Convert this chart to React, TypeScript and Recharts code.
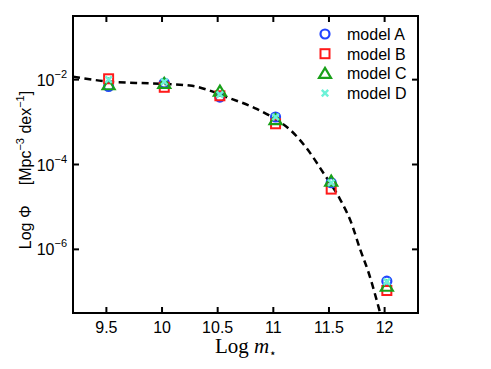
import React from 'react';
import {
  ComposedChart,
  Line,
  Scatter,
  XAxis,
  YAxis,
  Label,
} from 'recharts';

// log10 stellar mass bins
const massBins = [9.52, 10.02, 10.52, 11.02, 11.52, 12.02];

// log10 Phi per model
const modelA = [-2.16, -2.08, -2.41, -2.88, -4.43, -6.75];
const modelB = [-1.98, -2.18, -2.38, -3.04, -4.58, -6.97];
const modelC = [-2.12, -2.09, -2.27, -2.94, -4.39, -6.87];
const modelD = [-2.0, -2.05, -2.35, -2.88, -4.43, -6.76];

// dashed fit
const fitMass = [9.2, 9.5, 9.9, 10.25, 10.6, 10.85, 11.0, 11.15, 11.3, 11.45, 11.6, 11.7, 11.78, 11.85, 11.96];
const fitPhi = [-1.93, -2.04, -2.09, -2.14, -2.43, -2.69, -2.9, -3.18, -3.62, -4.2, -4.82, -5.37, -6.0, -6.5, -7.5];

const xTicks = [9.5, 10, 10.5, 11, 11.5, 12];
const yTicks = [-6, -4, -2];
const modelNames = ['model A', 'model B', 'model C', 'model D'];

const X_DOMAIN = [9.2, 12.3];
const Y_DOMAIN = [-7.5, -0.5];

const W = 491;
const H = 369;
const MARGIN = { top: 16, right: 73, bottom: 26, left: 13 };
const PLOT_LEFT = 73;
const PLOT_TOP = MARGIN.top;
const PLOT_RIGHT = W - MARGIN.right;
const PLOT_BOTTOM = H - MARGIN.bottom - 30;

const BLUE = '#2244ff';
const RED = '#ff1a1a';
const GREEN = '#19a019';
const CYAN = '#6cf2d8';
const SANS = '"Liberation Sans", Arial, sans-serif';

const toPoints = (ys: number[]) => massBins.map((x, i) => ({ x, y: ys[i] }));
const fitPoints = fitMass.map((x, i) => ({ x, y: fitPhi[i] }));

const Circle = ({ cx, cy }: any) => (
  <circle cx={cx} cy={cy} r={4.5} fill="none" stroke={BLUE} strokeWidth={2.2} />
);
const Square = ({ cx, cy }: any) => (
  <rect x={cx - 4.5} y={cy - 4.5} width={9} height={9} fill="none" stroke={RED} strokeWidth={2} />
);
const Triangle = ({ cx, cy }: any) => (
  <polygon
    points={`${cx},${cy - 5.5} ${cx + 6},${cy + 4.5} ${cx - 6},${cy + 4.5}`}
    fill="none"
    stroke={GREEN}
    strokeWidth={2.2}
  />
);
const Cross = ({ cx, cy }: any) => (
  <g stroke={CYAN} strokeWidth={2.4}>
    <line x1={cx - 3.2} y1={cy - 3.2} x2={cx + 3.2} y2={cy + 3.2} />
    <line x1={cx - 3.2} y1={cy + 3.2} x2={cx + 3.2} y2={cy - 3.2} />
  </g>
);
const markers = [Circle, Square, Triangle, Cross];

// bottom tick + its mirror on the top edge (matlab-style inward ticks)
const BottomTick = ({ x, y, payload }: any) => (
  <g>
    <line x1={x} y1={y} x2={x} y2={y - 6} stroke="#000" strokeWidth={2} />
    <line x1={x} y1={PLOT_TOP} x2={x} y2={PLOT_TOP + 6} stroke="#000" strokeWidth={2} />
    <text x={x} y={y + 20} textAnchor="middle" fontFamily={SANS} fontSize={16} fill="#000">
      {payload.value}
    </text>
  </g>
);
const LeftTick = ({ x, y, payload }: any) => (
  <g>
    <line x1={x} y1={y} x2={x + 6} y2={y} stroke="#000" strokeWidth={2} />
    <line x1={PLOT_RIGHT} y1={y} x2={PLOT_RIGHT - 6} y2={y} stroke="#000" strokeWidth={2} />
    <text x={x - 6} y={y + 6} textAnchor="end" fontFamily={SANS} fontSize={16} fill="#000">
      <tspan>10</tspan>
      <tspan dy={-8} fontSize={11}>{`\u2212${Math.abs(payload.value)}`}</tspan>
    </text>
  </g>
);

const ModelLegend = () => (
  <svg width={140} height={90} style={{ position: 'absolute', left: 315, top: 26 }}>
    {modelNames.map((name, i) => {
      const M = markers[i];
      const cy = 8 + i * 19.7;
      return (
        <g key={name}>
          <M cx={10} cy={cy} />
          <text x={32} y={cy + 6} fontFamily={SANS} fontSize={16} fill="#000">
            {name}
          </text>
        </g>
      );
    })}
  </svg>
);

// plot frame drawn on top of the chart
const Frame = () => (
  <svg width={W} height={H} style={{ position: 'absolute', left: 0, top: 0, pointerEvents: 'none' }}>
    <rect
      x={PLOT_LEFT}
      y={PLOT_TOP}
      width={PLOT_RIGHT - PLOT_LEFT}
      height={PLOT_BOTTOM - PLOT_TOP}
      fill="none"
      stroke="#000"
      strokeWidth={2}
    />
  </svg>
);

export default function App() {
  const series = [modelA, modelB, modelC, modelD];
  return (
    <div style={{ position: 'absolute', left: 0, top: 0, width: W, height: H, background: '#fff' }}>
      <ComposedChart width={W} height={H} margin={MARGIN}>
        <XAxis
          dataKey="x"
          type="number"
          domain={X_DOMAIN}
          allowDataOverflow
          ticks={xTicks}
          tickSize={0}
          tickMargin={0}
          tickLine={false}
          tick={<BottomTick />}
          axisLine={{ stroke: '#000', strokeWidth: 2 }}
          height={30}
        >
          <Label
            content={() => (
              <text x={246} y={353} textAnchor="middle" fontFamily='"Liberation Serif", serif' fontSize={21} fill="#000">
                <tspan>Log </tspan>
                <tspan fontStyle="italic">m</tspan>
                <tspan dy={4} fontSize={12}>{'\u22C6'}</tspan>
              </text>
            )}
          />
        </XAxis>
        <YAxis
          dataKey="y"
          type="number"
          domain={Y_DOMAIN}
          allowDataOverflow
          ticks={yTicks}
          tickSize={0}
          tickMargin={0}
          tickLine={false}
          tick={<LeftTick />}
          axisLine={{ stroke: '#000', strokeWidth: 2 }}
          width={60}
        >
          <Label
            content={() => (
              <text
                transform="rotate(-90)"
                x={-170}
                y={31}
                textAnchor="middle"
                fontFamily={SANS}
                fontSize={16}
                fill="#000"
              >
                <tspan>Log Φ</tspan>
                <tspan dx={20}>[Mpc</tspan>
                <tspan dy={-7} fontSize={11}>{'\u22123'}</tspan>
                <tspan dy={7}> dex</tspan>
                <tspan dy={-7} fontSize={11}>{'\u22121'}</tspan>
                <tspan dy={7}>]</tspan>
              </text>
            )}
          />
        </YAxis>
        <Line
          data={fitPoints}
          dataKey="y"
          type="monotone"
          stroke="#000"
          strokeWidth={2.5}
          strokeDasharray="7 4.5"
          dot={false}
          activeDot={false}
          isAnimationActive={false}
        />
        {series.map((ys, i) => (
          <Scatter
            key={modelNames[i]}
            name={modelNames[i]}
            data={toPoints(ys)}
            dataKey="y"
            shape={markers[i]}
            isAnimationActive={false}
          />
        ))}
      </ComposedChart>
      <Frame />
      <ModelLegend />
    </div>
  );
}
